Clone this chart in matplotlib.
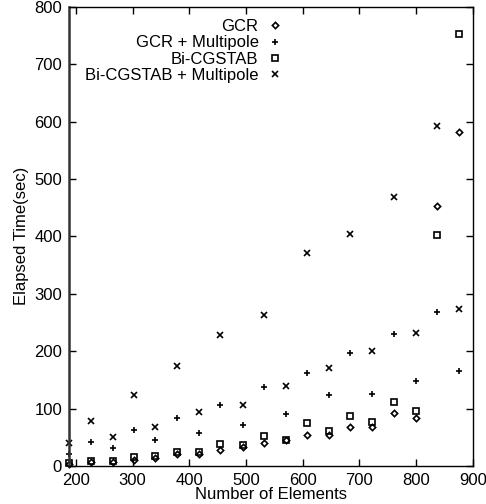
import matplotlib
matplotlib.use("Agg")
import matplotlib.pyplot as plt
from matplotlib.ticker import MultipleLocator

plt.rcParams['font.family'] = ['Liberation Sans', 'DejaVu Sans']

# Number of elements (mesh sizes)
elements = [188, 226, 265, 303, 340, 379, 418, 455, 494, 531,
            570, 608, 646, 684, 722, 761, 799, 837, 875]

# Elapsed time in seconds for each solver
gcr = [4, 6.4, 7.5, 11, 14, 20.3, 20.3, 28.5, 33, 40.6,
       44.7, 54, 53.4, 68, 68.5, 93, 84.2, 452.4, 582]
gcr_multipole = [20.3, 41.8, 32, 62, 44.7, 84.2, 57.5, 105.7, 72, 137,
                 91.2, 162, 124.3, 197.4, 125.4, 229.4, 147.5, 268.3, 166]
bicgstab = [5.2, 8.7, 9.3, 15.7, 17.4, 24.4, 23.8, 39, 36, 51.7,
            45.3, 74.3, 61, 87.7, 76.7, 111.5, 95.8, 403, 752.6]
bicgstab_multipole = [40.6, 77.8, 50.5, 124, 68, 174, 94, 229, 105.7, 263,
                      139, 371, 171, 403.6, 200, 468.6, 231.7, 591.8, 274]

series = [
    ("GCR", gcr, "D", 3.2),
    ("GCR + Multipole", gcr_multipole, "+", 5),
    ("Bi-CGSTAB", bicgstab, "s", 4.2),
    ("Bi-CGSTAB + Multipole", bicgstab_multipole, "x", 4.5),
]

fs = 12

fig = plt.figure(figsize=(4.86, 5.04), dpi=100)
ax = fig.add_axes([0.142, 0.0754, 0.831, 0.9113])

for label, values, marker, size in series:
    ax.plot(elements, values, linestyle="none", marker=marker, markersize=size,
            markerfacecolor="none", markeredgecolor="black", markeredgewidth=1.2,
            color="black", label=label, clip_on=False)

ax.set_xlim(188, 900)
ax.set_ylim(0, 800)
ax.xaxis.set_major_locator(MultipleLocator(100))
ax.yaxis.set_major_locator(MultipleLocator(100))
ax.tick_params(direction="in", length=5, width=1, top=True, right=True,
               labelsize=fs)
ax.tick_params(axis="x", pad=5)
ax.tick_params(axis="y", pad=5)
for side in ax.spines.values():
    side.set_linewidth(1)
ax.spines["left"].set_linewidth(1.8)
ax.spines["left"].set_color("#333333")

ax.set_xlabel("Number of Elements", fontsize=fs, labelpad=-1)
ax.set_ylabel("Elapsed Time(sec)", fontsize=fs, labelpad=4)

ax.legend(loc="upper right", bbox_to_anchor=(0.552, 0.984), markerfirst=False,
          frameon=False, fontsize=fs, handlelength=1.4, handletextpad=0.3,
          labelspacing=0.08, borderaxespad=0.0, borderpad=0.3)

fig.savefig("out.png", dpi=100)
